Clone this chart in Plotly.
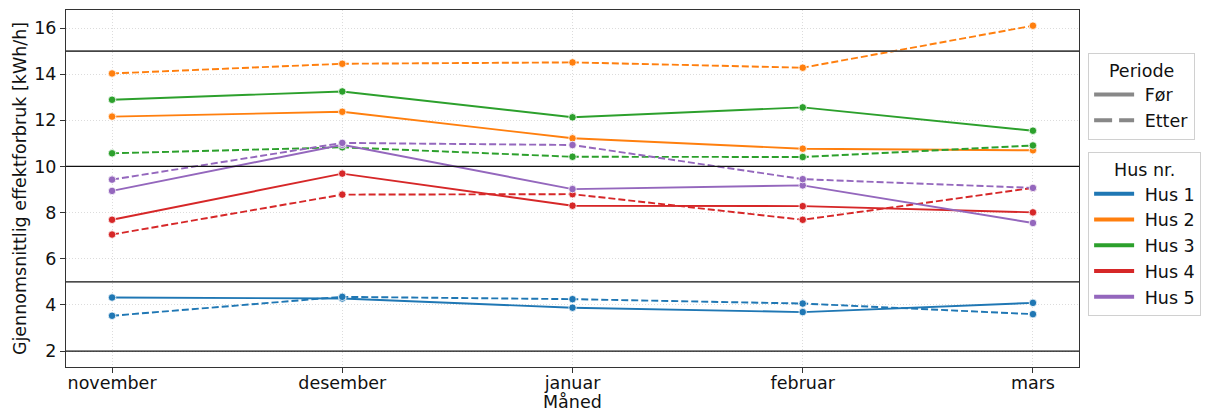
import plotly.graph_objects as go

# Months on the x axis
months = ["november", "desember", "januar", "februar", "mars"]

# Average power use [kWh/h] per house, before ("Før") and after ("Etter")
hus1_for = [4.32, 4.28, 3.88, 3.69, 4.09]
hus1_etter = [3.53, 4.35, 4.25, 4.06, 3.60]
hus2_for = [12.16, 12.37, 11.22, 10.77, 10.70]
hus2_etter = [14.03, 14.45, 14.51, 14.28, 16.10]
hus3_for = [12.89, 13.25, 12.13, 12.56, 11.55]
hus3_etter = [10.57, 10.83, 10.42, 10.41, 10.91]
hus4_for = [7.69, 9.69, 8.30, 8.28, 8.01]
hus4_etter = [7.05, 8.78, 8.80, 7.69, 9.07]
hus5_for = [8.94, 10.94, 9.02, 9.18, 7.55]
hus5_etter = [9.43, 11.02, 10.93, 9.45, 9.07]

house_names = ["Hus 1", "Hus 2", "Hus 3", "Hus 4", "Hus 5"]
period_names = ["Før", "Etter"]
before = [hus1_for, hus2_for, hus3_for, hus4_for, hus5_for]
after = [hus1_etter, hus2_etter, hus3_etter, hus4_etter, hus5_etter]
colors = ["#1f77b4", "#ff7f0e", "#2ca02c", "#d62728", "#9467bd"]

# Reference levels drawn as horizontal lines
ref_levels = [2, 5, 10, 15]

FONT = "DejaVu Sans"
FS = 17.5
NB = "\u00a0"  # small gap between legend glyph and label

fig = go.Figure()

for name, b, a, c in zip(house_names, before, after, colors):
    for vals, dash in ((b, "solid"), (a, "7px,3px")):
        fig.add_trace(go.Scatter(
            x=months, y=vals, mode="lines+markers",
            line=dict(color=c, width=1.9, dash=dash),
            marker=dict(color=c, size=7.5, line=dict(color="white", width=0.8)),
            showlegend=False, hoverinfo="x+y",
        ))

# Legend: line style per period
for pname, dash in zip(period_names, ["solid", "18px,7px"]):
    fig.add_trace(go.Scatter(x=[None], y=[None], mode="lines", name=NB + pname,
                             line=dict(color="#888888", width=4, dash=dash),
                             legend="legend"))
# Legend: colour per house
for name, c in zip(house_names, colors):
    fig.add_trace(go.Scatter(x=[None], y=[None], mode="lines", name=NB + name,
                             line=dict(color=c, width=4), legend="legend2"))

for lvl in ref_levels:
    fig.add_hline(y=lvl, line=dict(color="#444444" if lvl == 15 else "#111111",
                                   width=1.8 if lvl == 15 else 1.2), layer="above")

axis_common = dict(
    showline=True, linecolor="#333333", linewidth=1, mirror=True,
    ticks="outside", ticklen=5, tickwidth=1, tickcolor="#333333",
    showgrid=True, gridcolor="#dcdcdc", gridwidth=0.8, griddash="1px,2px",
    zeroline=False, automargin=False,
    tickfont=dict(family=FONT, size=FS, color="#111111"),
)

legend_common = dict(
    bgcolor="white", bordercolor="#d0d0d0", borderwidth=1,
    font=dict(family=FONT, size=FS, color="#111111"),
    xanchor="left", yanchor="top", tracegroupgap=0,
    itemwidth=40,
)

fig.update_layout(
    width=1205, height=414,
    margin=dict(l=66, r=126, t=10, b=47, autoexpand=False),
    paper_bgcolor="white", plot_bgcolor="white",
    font=dict(family=FONT, size=FS, color="#111111"),
    xaxis=dict(axis_common, range=[-0.2, 4.2], ticklabelstandoff=-5),
    yaxis=dict(axis_common, range=[1.31, 16.78], tickvals=[2, 4, 6, 8, 10, 12, 14, 16],
               title=dict(text="Gjennomsnittlig effektforbruk [kWh/h]", standoff=3,
                          font=dict(family=FONT, size=FS))),
    legend=dict(legend_common, x=1.009, y=0.88,
                title=dict(text="Periode", side="top center",
                           font=dict(family=FONT, size=FS))),
    legend2=dict(legend_common, x=1.009, y=0.602,
                 title=dict(text="Hus nr.", side="top center",
                            font=dict(family=FONT, size=FS))),
    showlegend=True,
    annotations=[dict(text="Måned", xref="paper", yref="paper", x=0.5, y=0,
                      xanchor="center", yanchor="middle", yshift=-35, borderpad=0,
                      showarrow=False, font=dict(family=FONT, size=FS, color="#111111"))],
)

fig.write_html("out.html")
